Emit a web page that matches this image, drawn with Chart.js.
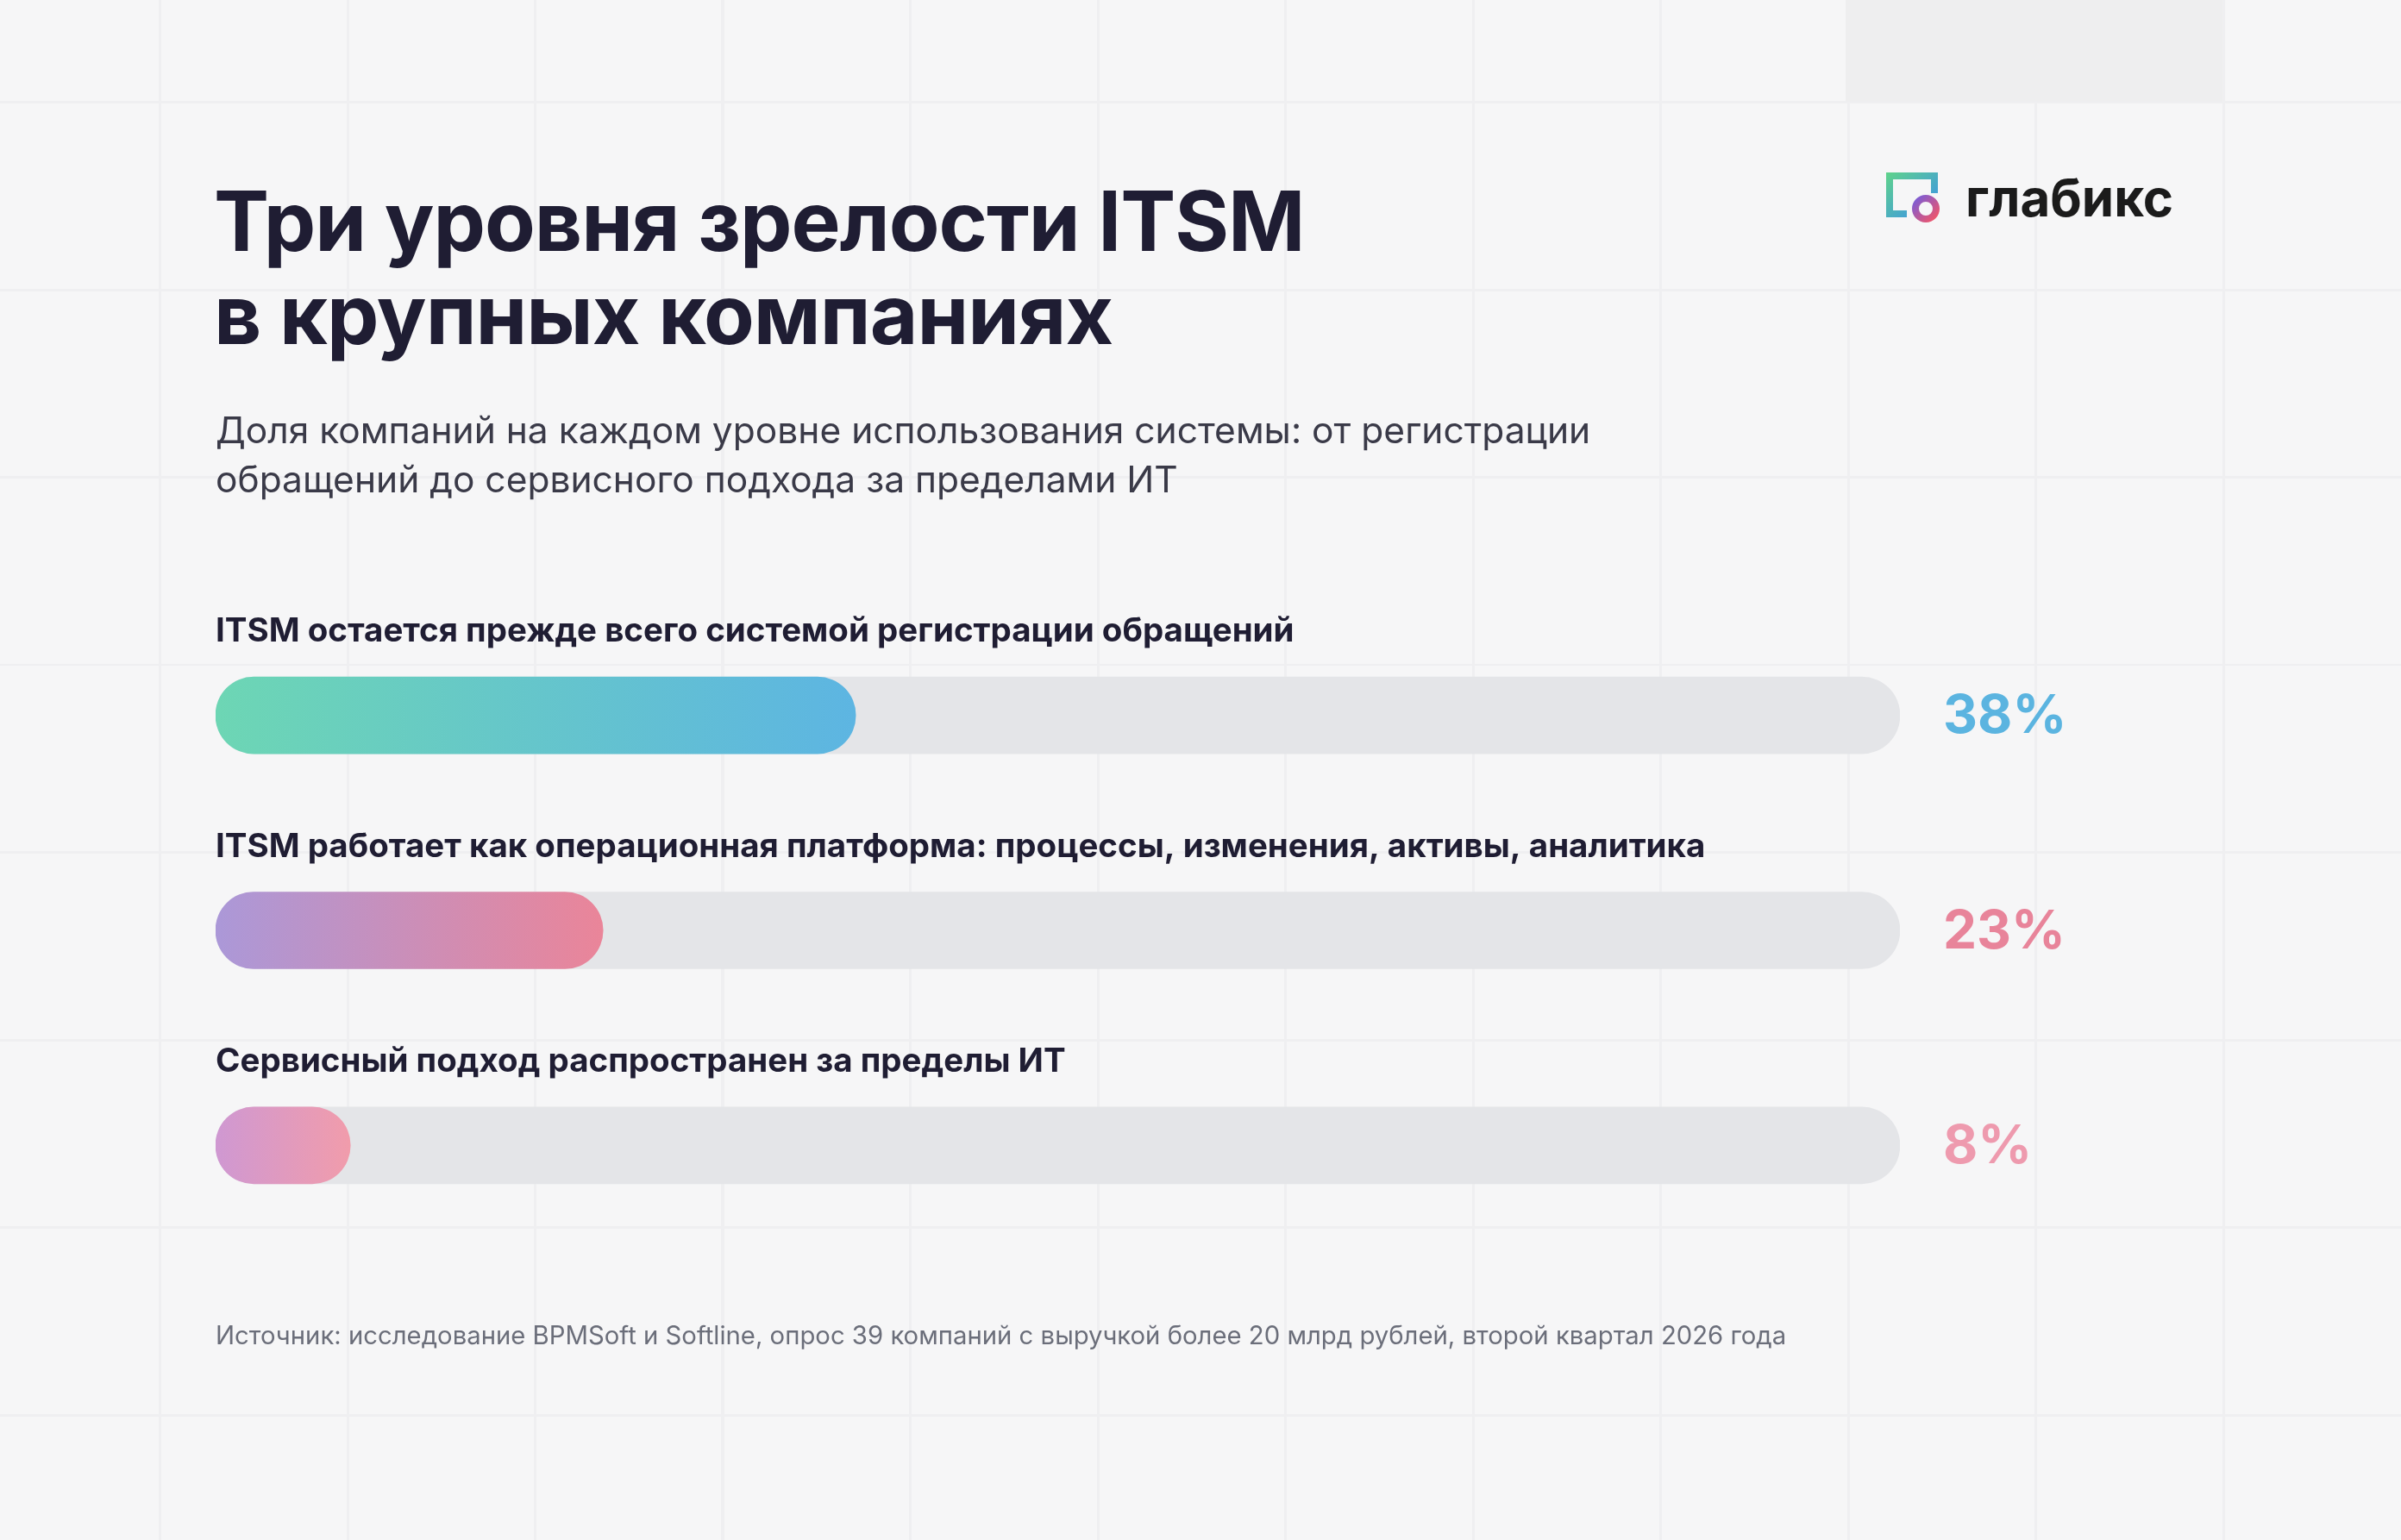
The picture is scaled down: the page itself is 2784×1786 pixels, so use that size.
<!DOCTYPE html>
<html lang="ru">
<head>
<meta charset="utf-8">
<script src="https://cdn.jsdelivr.net/npm/chart.js@4.4.1/dist/chart.umd.min.js"></script>
<style>
  html, body { margin: 0; padding: 0; }
  body {
    width: 2784px; height: 1786px; overflow: hidden; position: relative;
    background-color: #f6f6f7;
    background-image:
      repeating-linear-gradient(to bottom, transparent 0 117px, #efeff1 117px 120px, transparent 120px 217.5px),
      repeating-linear-gradient(to right, transparent 0 184px, #efeff1 184px 187px, transparent 187px 217.5px);
    font-family: Inter, "Noto Sans", sans-serif;
    color: #1f1d33;
  }
  #wrap { position: absolute; left: 0; top: 0; width: 2784px; height: 1786px; }
  .title { position: absolute; left: 248px; top: 202px; font-size: 96px; font-weight: 700; line-height: 108px; letter-spacing: -1px; }
  .sub { position: absolute; left: 250px; top: 470px; font-size: 42.5px; line-height: 57px; color: #3a3a48; }
  .src { position: absolute; left: 250px; top: 1531px; font-size: 29.3px; color: #6b6e7a; }
  .logo { position: absolute; left: 2187px; top: 193px; display: flex; align-items: center; }
  .logo span { font-size: 60px; font-weight: 700; color: #1b1b1b; margin-left: 28px; }
  .corner { position: absolute; left: 2140px; top: 0; width: 437px; height: 118px; background: #eeeeef; }
</style>
</head>
<body>
<div class="corner"></div>
<div id="wrap"><canvas id="c" width="2784" height="1786"></canvas></div>
<div class="title">Три уровня зрелости ITSM<br>в крупных компаниях</div>
<div class="sub">Доля компаний на каждом уровне использования системы: от регистрации<br>обращений до сервисного подхода за пределами ИТ</div>
<div class="src">Источник: исследование BPMSoft и Softline, опрос 39 компаний с выручкой более 20 млрд рублей, второй квартал 2026 года</div>
<div class="logo">
  <svg width="64" height="58" viewBox="0 0 64 58">
    <defs>
      <linearGradient id="g1" x1="0" y1="0" x2="1" y2="1"><stop offset="0" stop-color="#5fd38a"/><stop offset="1" stop-color="#3a8ef0"/></linearGradient>
      <linearGradient id="g2" x1="0" y1="0" x2="1" y2="1"><stop offset="0" stop-color="#7b5cd6"/><stop offset="1" stop-color="#f0566a"/></linearGradient>
    </defs>
    <path d="M0 0H60V24H52V8H8V44H24V52H0Z" fill="url(#g1)"/>
    <circle cx="46" cy="42" r="12" fill="none" stroke="url(#g2)" stroke-width="8"/>
  </svg>
  <span>глабикс</span>
</div>
<script>
const labels = [
  'ITSM остается прежде всего системой регистрации обращений',
  'ITSM работает как операционная платформа: процессы, изменения, активы, аналитика',
  'Сервисный подход распространен за пределы ИТ'
];
const shares = [38, 23, 8];
const track = [100, 100, 100];
const gradStops = [['#6dd6b4', '#5db5e2'], ['#ab98d8', '#ea8599'], ['#cf98d2', '#f19cab']];
const valueColors = ['#5bb4e0', '#e8849a', '#ee9aae'];

const textPlugin = {
  id: 'texts',
  afterDatasetsDraw(chart) {
    const ctx = chart.ctx;
    const y = chart.scales.y;
    const x = chart.scales.x;
    ctx.save();
    labels.forEach((lab, i) => {
      const cy = y.getPixelForValue(i);
      ctx.fillStyle = '#1f1d33';
      ctx.font = '700 38.5px Inter, "Noto Sans", sans-serif';
      ctx.textBaseline = 'middle';
      ctx.textAlign = 'left';
      ctx.fillText(lab, x.getPixelForValue(0), cy - 97);
      ctx.fillStyle = valueColors[i];
      ctx.font = '700 62px Inter, "Noto Sans", sans-serif';
      ctx.fillText(shares[i] + '%', x.getPixelForValue(100) + 50, cy + 2);
    });
    ctx.restore();
  }
};

new Chart(document.getElementById('c'), {
  type: 'bar',
  data: {
    labels: labels,
    datasets: [
      {
        data: shares,
        grouped: false,
        order: 0,
        barThickness: 89,
        borderRadius: 45,
        borderSkipped: false,
        backgroundColor: (c) => {
          const a = c.chart.chartArea;
          if (!a || c.dataIndex === undefined) return '#ccc';
          const x0 = a.left;
          const x1 = a.left + (a.right - a.left) * shares[c.dataIndex] / 100;
          const g = c.chart.ctx.createLinearGradient(x0, 0, x1, 0);
          g.addColorStop(0, gradStops[c.dataIndex][0]);
          g.addColorStop(1, gradStops[c.dataIndex][1]);
          return g;
        }
      },
      {
        data: track,
        grouped: false,
        order: 1,
        barThickness: 89,
        borderRadius: 45,
        borderSkipped: false,
        backgroundColor: '#e4e5e8'
      }
    ]
  },
  options: {
    indexAxis: 'y',
    responsive: false,
    animation: false,
    layout: { padding: { left: 250, right: 581, top: 705, bottom: 333 } },
    plugins: { legend: { display: false }, tooltip: { enabled: false } },
    scales: {
      x: { min: 0, max: 100, display: false },
      y: { display: false }
    }
  },
  plugins: [textPlugin]
});
</script>
</body>
</html>
